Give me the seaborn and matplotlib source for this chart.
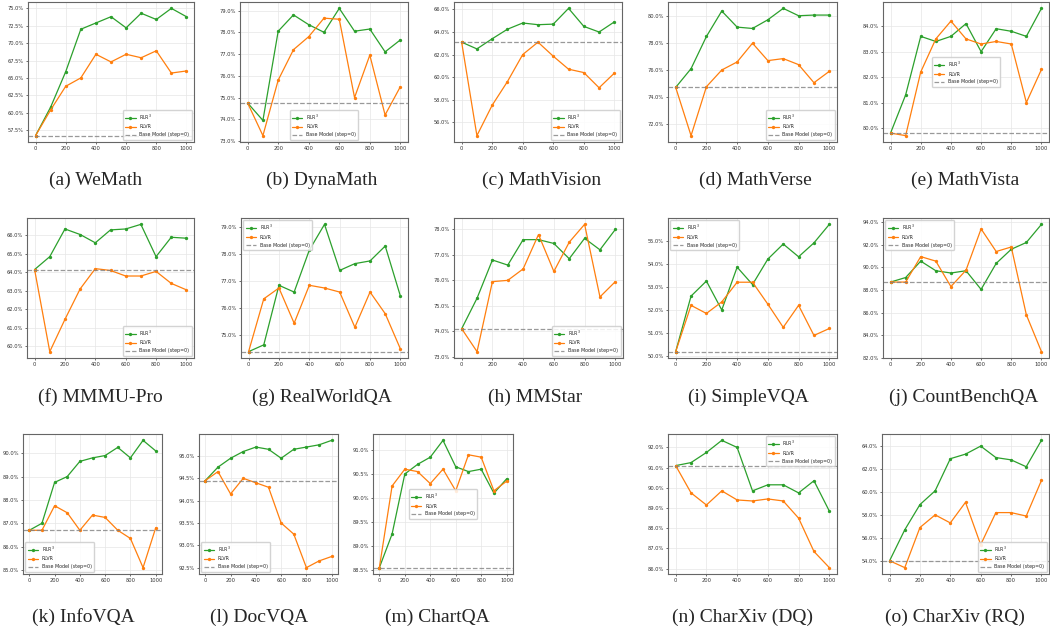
import numpy as np
import pandas as pd
import matplotlib
matplotlib.use('Agg')
import matplotlib.pyplot as plt
import seaborn as sns
from matplotlib.ticker import PercentFormatter, MultipleLocator

# training steps shared by every panel
steps = [0, 100, 200, 300, 400, 500, 600, 700, 800, 900, 1000]

titles = ['(a) WeMath', '(b) DynaMath', '(c) MathVision', '(d) MathVerse', '(e) MathVista',
          '(f) MMMU-Pro', '(g) RealWorldQA', '(h) MMStar', '(i) SimpleVQA', '(j) CountBenchQA',
          '(k) InfoVQA', '(l) DocVQA', '(m) ChartQA', '(n) CharXiv (DQ)', '(o) CharXiv (RQ)']

base_scores = [56.7, 74.75, 63.1, 74.7, 79.8,
               64.15, 74.4, 74.1, 50.2, 88.7,
               86.7, 94.45, 88.55, 91.1, 54.0]

# RLR^3 curves
rlr3_wemath = [56.7, 60.8, 65.9, 72.0, 72.9, 73.8, 72.2, 74.3, 73.4, 75.0, 73.8]
rlr3_dynamath = [74.75, 73.95, 78.05, 78.8, 78.35, 78.0, 79.1, 78.05, 78.15, 77.1, 77.65]
rlr3_mathvision = [63.1, 62.5, 63.4, 64.25, 64.8, 64.65, 64.7, 66.1, 64.5, 64.0, 64.9]
rlr3_mathverse = [74.7, 76.1, 78.5, 80.4, 79.2, 79.1, 79.75, 80.6, 80.05, 80.1, 80.1]
rlr3_mathvista = [79.8, 81.3, 83.6, 83.4, 83.6, 84.1, 83.0, 83.9, 83.8, 83.6, 84.7]
rlr3_mmmupro = [64.15, 64.85, 66.35, 66.05, 65.6, 66.3, 66.35, 66.6, 64.85, 65.9, 65.85]
rlr3_realworldqa = [74.4, 74.65, 76.85, 76.6, 78.15, 79.1, 77.4, 77.65, 77.75, 78.3, 76.45]
rlr3_mmstar = [74.1, 75.3, 76.8, 76.6, 77.6, 77.6, 77.45, 76.85, 77.65, 77.2, 78.0]
rlr3_simplevqa = [50.2, 52.6, 53.25, 52.0, 53.85, 53.1, 54.2, 54.85, 54.3, 54.9, 55.7]
rlr3_countbench = [88.7, 89.1, 90.55, 89.7, 89.5, 89.7, 88.05, 90.35, 91.6, 92.2, 93.8]
rlr3_infovqa = [86.7, 87.0, 88.75, 89.0, 89.65, 89.8, 89.9, 90.25, 89.8, 90.55, 90.1]
rlr3_docvqa = [94.45, 94.75, 94.95, 95.1, 95.2, 95.15, 94.95, 95.15, 95.2, 95.25, 95.35]
rlr3_chartqa = [88.55, 89.25, 90.5, 90.7, 90.85, 91.2, 90.65, 90.55, 90.6, 90.1, 90.4]
rlr3_charxiv_dq = [91.1, 91.25, 91.75, 92.35, 92.0, 89.85, 90.15, 90.15, 89.75, 90.35, 88.85]
rlr3_charxiv_rq = [54.0, 56.7, 58.9, 60.1, 62.9, 63.3, 64.0, 63.0, 62.8, 62.2, 64.5]

# RLVR curves
rlvr_wemath = [56.7, 60.4, 63.8, 65.0, 68.4, 67.3, 68.4, 67.9, 68.9, 65.7, 66.0]
rlvr_dynamath = [74.75, 73.25, 75.8, 77.2, 77.8, 78.65, 78.6, 75.0, 76.95, 74.2, 75.5]
rlvr_mathvision = [63.1, 54.8, 57.5, 59.6, 62.0, 63.1, 61.85, 60.7, 60.4, 59.05, 60.35]
rlvr_mathverse = [74.7, 71.1, 74.75, 76.0, 76.6, 78.0, 76.7, 76.85, 76.4, 75.05, 75.9]
rlvr_mathvista = [79.8, 79.7, 82.2, 83.5, 84.2, 83.5, 83.3, 83.4, 83.3, 81.0, 82.3]
rlvr_mmmupro = [64.15, 59.7, 61.45, 63.1, 64.2, 64.1, 63.8, 63.8, 64.05, 63.4, 63.05]
rlvr_realworldqa = [74.4, 76.35, 76.75, 75.45, 76.85, 76.75, 76.6, 75.3, 76.6, 75.8, 74.5]
rlvr_mmstar = [74.1, 73.2, 75.95, 76.0, 76.45, 77.8, 76.35, 77.5, 78.2, 75.35, 75.95]
rlvr_simplevqa = [50.2, 52.2, 51.85, 52.35, 53.2, 53.2, 52.25, 51.25, 52.2, 50.9, 51.2]
rlvr_countbench = [88.7, 88.7, 90.95, 90.55, 88.3, 89.75, 93.4, 91.4, 91.8, 85.8, 82.55]
rlvr_infovqa = [86.7, 86.7, 87.75, 87.45, 86.7, 87.35, 87.25, 86.7, 86.35, 85.1, 86.8]
rlvr_docvqa = [94.45, 94.65, 94.15, 94.5, 94.4, 94.3, 93.5, 93.25, 92.5, 92.65, 92.75]
rlvr_chartqa = [88.55, 90.25, 90.6, 90.55, 90.3, 90.6, 90.15, 90.9, 90.85, 90.15, 90.35]
rlvr_charxiv_dq = [91.1, 89.75, 89.15, 89.85, 89.4, 89.35, 89.45, 89.35, 88.5, 86.85, 86.05]
rlvr_charxiv_rq = [54.0, 53.4, 56.9, 58.0, 57.3, 59.1, 55.4, 58.2, 58.2, 57.9, 61.0]

rlr3_all = [rlr3_wemath, rlr3_dynamath, rlr3_mathvision, rlr3_mathverse, rlr3_mathvista,
            rlr3_mmmupro, rlr3_realworldqa, rlr3_mmstar, rlr3_simplevqa, rlr3_countbench,
            rlr3_infovqa, rlr3_docvqa, rlr3_chartqa, rlr3_charxiv_dq, rlr3_charxiv_rq]
rlvr_all = [rlvr_wemath, rlvr_dynamath, rlvr_mathvision, rlvr_mathverse, rlvr_mathvista,
            rlvr_mmmupro, rlvr_realworldqa, rlvr_mmstar, rlvr_simplevqa, rlvr_countbench,
            rlvr_infovqa, rlvr_docvqa, rlvr_chartqa, rlvr_charxiv_dq, rlvr_charxiv_rq]

# layout: axes box in pixels (left, top, right, bottom), caption centre, tick step, legend loc
boxes = [(28, 2, 194, 142), (240, 2, 408, 142), (454, 2, 622, 142), (668, 2, 837, 142), (883, 2, 1049, 142),
         (27, 218, 194, 358), (241, 218, 408, 358), (454, 218, 623, 358), (668, 218, 837, 358), (883, 218, 1049, 358),
         (23, 434, 162, 574), (199, 434, 338, 574), (373, 434, 513, 574), (668, 434, 837, 574), (882, 434, 1049, 574)]
cap_x = [96, 322, 542, 755, 965, 100, 322, 535, 748, 964, 83, 259, 437, 742, 955]
cap_y = [180] * 5 + [397] * 5 + [617] * 5
tick_step = [2.5, 1, 2, 2, 1, 1, 1, 1, 1, 2, 1, 0.5, 0.5, 1, 2]
leg_loc = ['lower right', 'lower center', 'lower right', 'lower right', 'center',
           'lower right', 'upper left', 'lower right', 'upper left', 'upper left',
           'lower left', 'lower left', 'center', 'upper right', 'lower right']

sns.set_style('whitegrid', {'axes.edgecolor': '#666666', 'grid.color': '#e6e6e6',
                            'xtick.bottom': True, 'ytick.left': True})
plt.rcParams['font.family'] = ['DejaVu Sans']

W, H = 1050, 632
fig = plt.figure(figsize=(10.5, 6.32), dpi=100)

green = '#2ca02c'
orange = '#ff7f0e'

for i in range(15):
    l, t, r, b = boxes[i]
    ax = fig.add_axes([l / W, 1 - b / H, (r - l) / W, (b - t) / H])
    df = pd.DataFrame({'step': steps, 'rlr3': rlr3_all[i], 'rlvr': rlvr_all[i]})
    sns.lineplot(data=df, x='step', y='rlr3', ax=ax, color=green, marker='o', markersize=2.4,
                 markeredgewidth=0, linewidth=0.9, label='RLR$^3$')
    sns.lineplot(data=df, x='step', y='rlvr', ax=ax, color=orange, marker='o', markersize=2.4,
                 markeredgewidth=0, linewidth=0.9, label='RLVR')
    ax.axhline(base_scores[i], color='gray', linestyle='--', linewidth=0.9, alpha=0.8,
               label='Base Model (step=0)')
    ax.set_xlabel('')
    ax.set_ylabel('')
    ax.set_xticks([0, 200, 400, 600, 800, 1000])
    ax.yaxis.set_major_locator(MultipleLocator(tick_step[i]))
    ax.yaxis.set_major_formatter(PercentFormatter(xmax=100, decimals=1))
    ax.tick_params(labelsize=3.7, length=1.5, width=0.5, pad=1.5, colors='#333333')
    ax.grid(True, linewidth=0.5)
    for s in ax.spines.values():
        s.set_linewidth(0.8)
    ax.legend(loc=leg_loc[i], fontsize=3.4, frameon=True, handlelength=2.2, borderpad=0.5,
              labelspacing=0.6, framealpha=0.85)
    fig.text(cap_x[i] / W, 1 - cap_y[i] / H, titles[i], ha='center', va='center',
             fontsize=14, family='Liberation Serif')

plt.savefig('out.png', dpi=100)
